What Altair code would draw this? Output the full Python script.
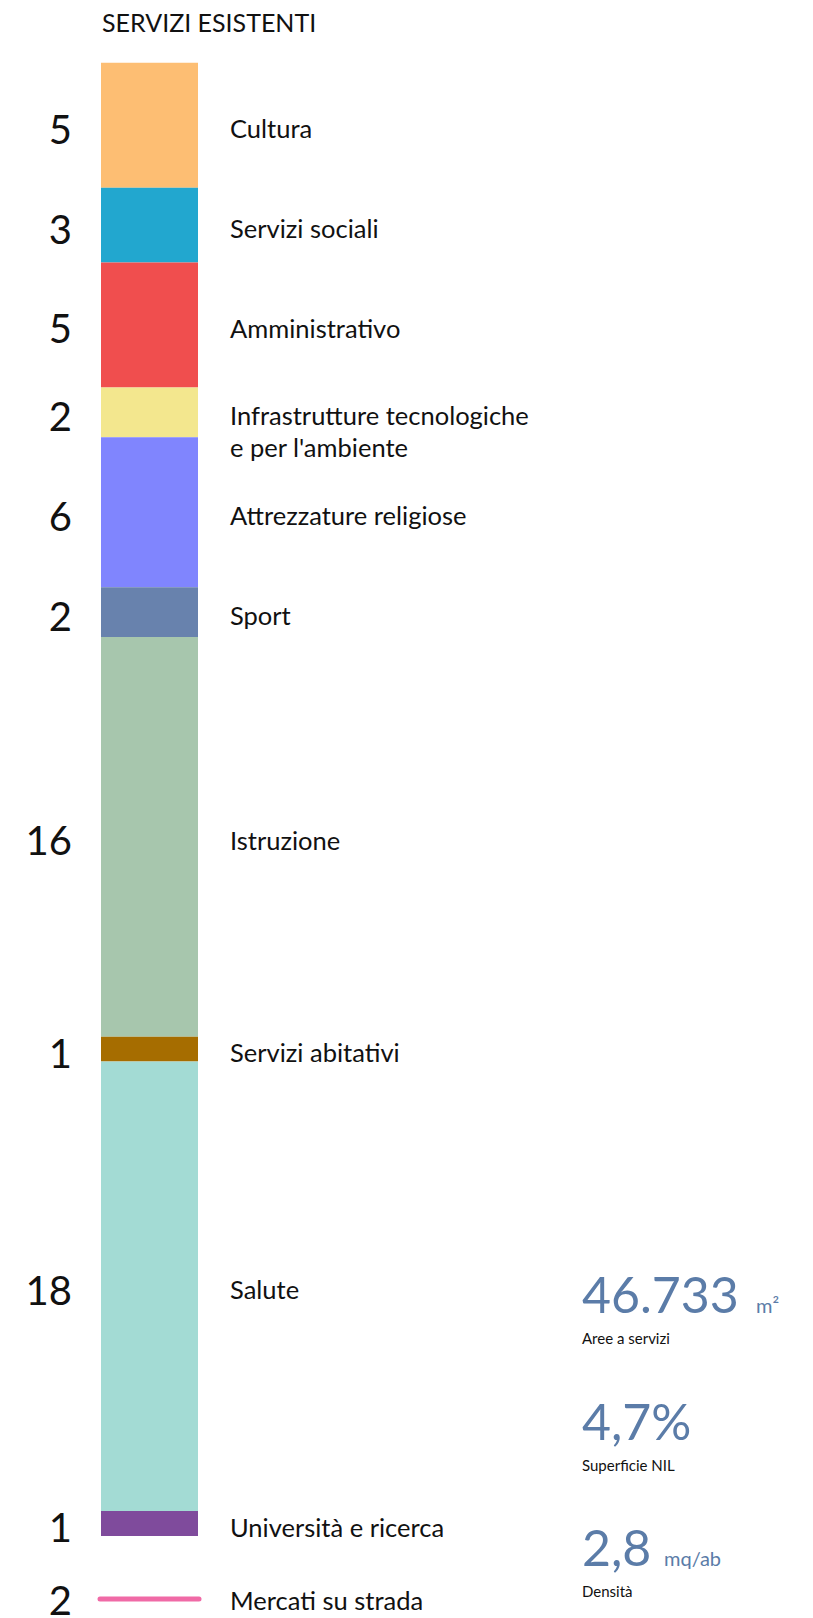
import altair as alt
import pandas as pd

# ---- data ----
categories = ["Cultura", "Servizi sociali", "Amministrativo",
              "Infrastrutture tecnologiche\ne per l'ambiente",
              "Attrezzature religiose", "Sport", "Istruzione",
              "Servizi abitativi", "Salute", "Università e ricerca"]
counts = [5, 3, 5, 2, 6, 2, 16, 1, 18, 1]
colors = ["#fdbe73", "#22a7cf", "#f04e4e", "#f3e78e", "#8085fe",
          "#6882ad", "#a7c6ad", "#a66d00", "#a3dbd4", "#7f4b9c"]

market_label = "Mercati su strada"
market_count = 2
market_color = "#f06aa6"

title_text = "SERVIZI ESISTENTI"

stat_values = ["46.733", "4,7%", "2,8"]
stat_units = ["m²", "", "mq/ab"]
stat_labels = ["Aree a servizi", "Superficie NIL", "Densità"]

# ---- table ----
starts, ends = [], []
acc = 0
for c in counts:
    starts.append(acc)
    acc += c
    ends.append(acc)
df = pd.DataFrame({"cat": categories, "n": counts, "start": starts, "end": ends})
df["mid"] = (df["start"] + df["end"]) / 2
df["ntxt"] = df["n"].astype(str)

W, H = 797, 1610
UNIT = 24.97
TOP = 54.8
yscale = alt.Scale(domain=[-TOP / UNIT, (H - TOP) / UNIT], range=[0, H], nice=False, zero=False)

FONT = "Lato"
BLUE = "#5b7ca8"
INK = "#111111"

base = alt.Chart(df)

bars = base.mark_rect().encode(
    y=alt.Y("start:Q", scale=yscale, axis=None),
    y2="end:Q",
    x=alt.value(93), x2=alt.value(190),
    color=alt.Color("cat:N", scale=alt.Scale(domain=categories, range=colors), legend=None),
)

nums = base.mark_text(align="right", baseline="alphabetic", dy=18.5, fontSize=40,
                      font=FONT, color=INK).encode(
    y=alt.Y("mid:Q", scale=yscale, axis=None),
    x=alt.value(64),
    text="ntxt:N",
)

labels = base.mark_text(align="left", baseline="alphabetic", dy=13, fontSize=25.5,
                        font=FONT, color=INK, lineBreak="\n", lineHeight=32).encode(
    y=alt.Y("mid:Q", scale=yscale, axis=None),
    x=alt.value(222),
    text="cat:N",
)

mdf = pd.DataFrame({"lab": [market_label], "n": [str(market_count)]})
mbase = alt.Chart(mdf)
mline = mbase.mark_rule(strokeWidth=5, strokeCap="round", color=market_color).encode(
    y=alt.value(1591), x=alt.value(92), x2=alt.value(191))
mnum = mbase.mark_text(align="right", baseline="alphabetic", fontSize=40, font=FONT,
                       color=INK).encode(y=alt.value(1607), x=alt.value(64), text="n:N")
mlab = mbase.mark_text(align="left", baseline="alphabetic", fontSize=25.5, font=FONT,
                       color=INK).encode(y=alt.value(1602), x=alt.value(222), text="lab:N")

tdf = pd.DataFrame({"t": [title_text]})
title = alt.Chart(tdf).mark_text(align="left", baseline="alphabetic", fontSize=25, font=FONT,
                                 color=INK).encode(y=alt.value(24), x=alt.value(94), text="t:N")

sdf = pd.DataFrame({"v": stat_values, "u": stat_units, "l": stat_labels,
                    "vy": [1305, 1432, 1558], "ux": [748, 0, 656]})
sbase = alt.Chart(sdf)
svals = sbase.mark_text(align="left", baseline="alphabetic", fontSize=50, font=FONT,
                        color=BLUE).encode(y=alt.Y("vy:Q", scale=None), x=alt.value(574), text="v:N")
sunits = sbase.mark_text(align="left", baseline="alphabetic", fontSize=20, font=FONT,
                         color=BLUE).encode(y=alt.Y("vy:Q", scale=None), x=alt.X("ux:Q", scale=None), text="u:N")
slabs = sbase.mark_text(align="left", baseline="alphabetic", dy=31, fontSize=15, font=FONT,
                        color=INK).encode(y=alt.Y("vy:Q", scale=None), x=alt.value(574), text="l:N")

chart = alt.layer(bars, nums, labels, mline, mnum, mlab, title, svals, sunits, slabs).properties(
    width=W, height=H, autosize=alt.AutoSizeParams(type="none"), padding=0
).configure_view(stroke=None)

chart.save("out.html", embed_options={"renderer": "svg", "actions": False})
